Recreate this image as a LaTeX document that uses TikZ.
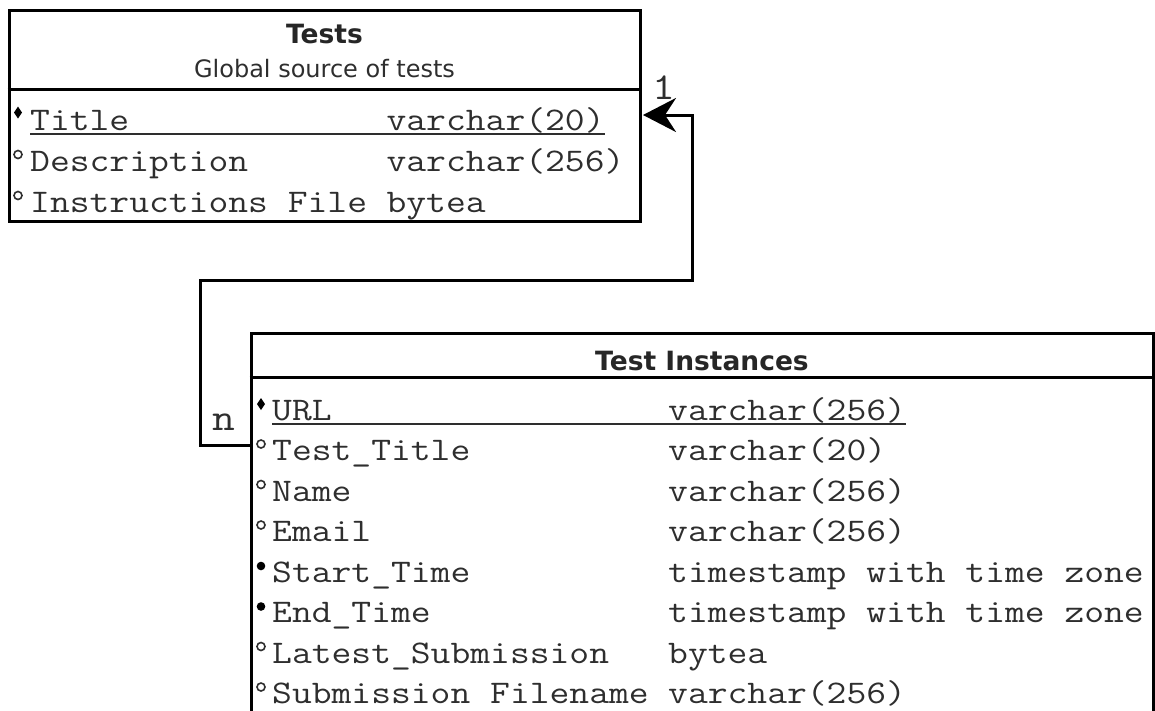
\documentclass[tikz,border=0pt]{standalone}
\usepackage{fontspec}
\setmonofont[FakeStretch=1.166]{Latin Modern Mono}
\newfontfamily\hdfont{DejaVu Sans}
\usetikzlibrary{arrows.meta}
\definecolor{txt}{HTML}{2E2E2E}
\begin{document}
\begin{tikzpicture}[x=1pt,y=-1pt,
  box/.style={draw=black, line width=3pt, inner sep=0pt},
  col/.style={anchor=base west, inner sep=0pt, text=txt, font=\ttfamily\fontsize{33}{33}\selectfont},
  hdb/.style={anchor=base, inner sep=0pt, text=black!85, font=\hdfont\bfseries\fontsize{26.5}{26.5}\selectfont},
  hdn/.style={anchor=base, inner sep=0pt, text=txt, font=\hdfont\fontsize{24}{24}\selectfont},
  sep/.style={line width=3pt, black},
  uline/.style={line width=1.6pt, txt},
  conn/.style={line width=3pt, black},
  card/.style={inner sep=0pt, text=txt, font=\ttfamily\fontsize{38}{38}\selectfont},
  dotm/.style={fill=black},
  circm/.style={draw=txt, line width=1.6pt}
]
\useasboundingbox (0,0) rectangle (1155,710);
\clip (0,0) rectangle (1155,710);

% ---------- Tests table ----------
\node[box, minimum width=631pt, minimum height=211pt] (tests) at (324.5,115.5) {};
\draw[sep] (tests.west |- 0,89) -- (tests.east |- 0,89);
\node[hdb] (th) at (324.5,43) {Tests};
\node[hdn] (ts) at (324.5,77) {Global source of tests};

\node[col] (a1) at (30,130) {Title};
\node[col] (a1t) at (386.4,130) {varchar(20)};
\node[col] (a2) at (30,171) {Description};
\node[col] (a2t) at (386.4,171) {varchar(256)};
\node[col] (a3) at (30,212) {Instructions File};
\node[col] (a3t) at (386.4,212) {bytea};
\draw[uline] ([yshift=-4pt]a1.base west) -- ([yshift=-4pt]a1t.base east);

\fill[black] ([xshift=-12pt,yshift=23.5pt]a1.base west) -- ([xshift=-8pt,yshift=17.5pt]a1.base west) -- ([xshift=-12pt,yshift=11.5pt]a1.base west) -- ([xshift=-16pt,yshift=17.5pt]a1.base west) -- cycle;
\draw[circm] ([xshift=-12pt,yshift=16.5pt]a2.base west) circle (4pt);
\draw[circm] ([xshift=-12pt,yshift=16.5pt]a3.base west) circle (4pt);

% ---------- Test Instances table ----------
\node[box, minimum width=902pt, minimum height=380pt] (ti) at (702,523) {};
\draw[sep] (ti.west |- 0,377) -- (ti.east |- 0,377);
\node[hdb] (tih) at (702,370) {Test Instances};

\node[col] (b1) at (272,420) {URL};
\node[col] (b1t) at (668,420) {varchar(256)};
\node[col] (b2) at (272,460.5) {Test\_Title};
\node[col] (b2t) at (668,460.5) {varchar(20)};
\node[col] (b3) at (272,501) {Name};
\node[col] (b3t) at (668,501) {varchar(256)};
\node[col] (b4) at (272,541.5) {Email};
\node[col] (b4t) at (668,541.5) {varchar(256)};
\node[col] (b5) at (272,582) {Start\_Time};
\node[col] (b5t) at (668,582) {timestamp with time zone};
\node[col] (b6) at (272,622.5) {End\_Time};
\node[col] (b6t) at (668,622.5) {timestamp with time zone};
\node[col] (b7) at (272,663) {Latest\_Submission};
\node[col] (b7t) at (668,663) {bytea};
\node[col] (b8) at (272,703.5) {Submission Filename};
\node[col] (b8t) at (668,703.5) {varchar(256)};
\draw[uline] ([yshift=-4pt]b1.base west) -- ([yshift=-4pt]b1t.base east);

\fill[black] ([xshift=-11pt,yshift=22pt]b1.base west) -- ([xshift=-7pt,yshift=16pt]b1.base west) -- ([xshift=-11pt,yshift=10pt]b1.base west) -- ([xshift=-15pt,yshift=16pt]b1.base west) -- cycle;
\draw[circm] ([xshift=-11pt,yshift=16.5pt]b2.base west) circle (4pt);
\draw[circm] ([xshift=-11pt,yshift=16.5pt]b3.base west) circle (4pt);
\draw[circm] ([xshift=-11pt,yshift=16.5pt]b4.base west) circle (4pt);
\fill[dotm] ([xshift=-11pt,yshift=16pt]b5.base west) circle (4.3pt);
\fill[dotm] ([xshift=-11pt,yshift=16pt]b6.base west) circle (4.3pt);
\draw[circm] ([xshift=-11pt,yshift=16.5pt]b7.base west) circle (4pt);
\draw[circm] ([xshift=-11pt,yshift=16.5pt]b8.base west) circle (4pt);

% ---------- connector ----------
\coordinate (c1) at (200,445);
\coordinate (c2) at (200,280);
\coordinate (c3) at (692,280);
\coordinate (c4) at (692,115);
\draw[conn, -{Stealth[length=33pt, width=34pt, inset=11pt]}]
  (ti.west |- c1) -- (c1) -- (c2) -- (c3) -- (c4) -- ([xshift=1.5pt]tests.east |- c4);
\node[card] (one) at (664,88) {1};
\node[card, anchor=base] (nn) at (224,430) {n};
\end{tikzpicture}
\end{document}
